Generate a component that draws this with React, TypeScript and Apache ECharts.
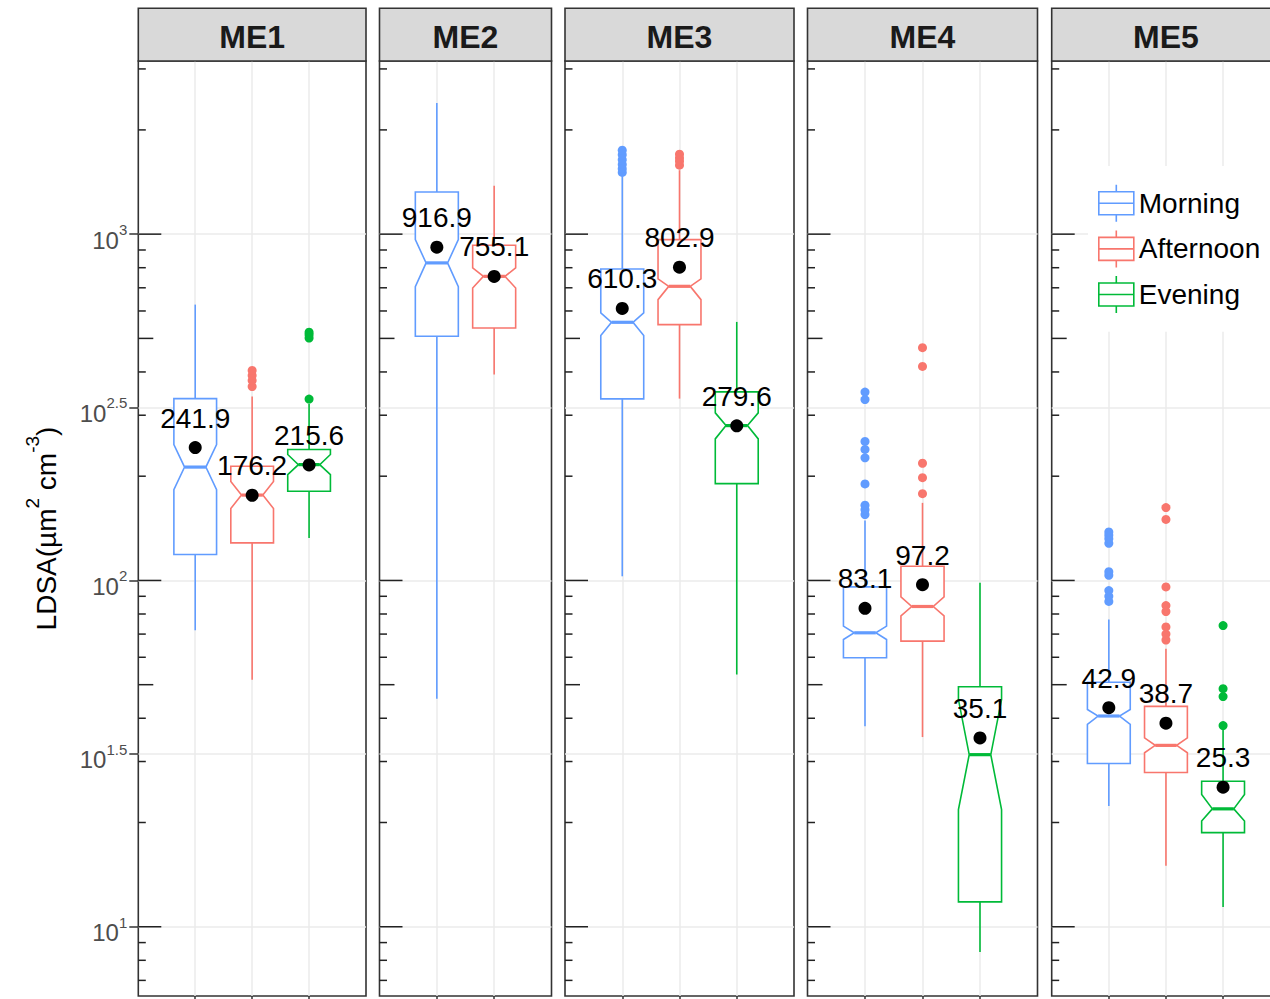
import React, { useEffect, useRef } from 'react';
import * as echarts from 'echarts';

const PANELS = ['ME1', 'ME2', 'ME3', 'ME4', 'ME5'];
const GROUPS = ['Morning', 'Afternoon', 'Evening'];
const COLORS = ['#619CFF', '#F8766D', '#00BA38'];
const PANEL_GROUPS = [[0, 1, 2], [0, 1], [0, 1, 2], [0, 1, 2], [0, 1, 2]];

// [lower whisker, Q1, notch low, median, notch high, Q3, upper whisker]
const ME1_BOXES = [
  [71.8, 118.8, 183, 212.5, 246.8, 335, 626],
  [51.7, 128.4, 161.3, 176.4, 193, 213.6, 340],
  [132.7, 180.9, 202.1, 216, 231, 238.8, 324],
];
const ME2_BOXES = [
  [45.5, 507, 705.6, 826, 964, 1324, 2392],
  [393, 536, 699.3, 755.3, 798.8, 928.4, 1380],
];
const ME3_BOXES = [
  [102.8, 334.4, 509.3, 556.5, 592.4, 793.5, 1468],
  [335, 548, 647, 706.9, 742.4, 964, 1530],
  [53.5, 190.4, 256.3, 280, 304.7, 350.4, 557.9],
];
const ME4_BOXES = [
  [37.9, 59.8, 67.5, 70.6, 73.8, 95.8, 149],
  [35.3, 66.8, 79, 84.1, 89.6, 109.9, 167.5],
  [8.45, 11.8, 21.8, 31.4, 45.3, 49.3, 98.4],
];
const ME5_BOXES = [
  [22.3, 29.6, 38.4, 40.6, 42.4, 50.8, 77.1],
  [15.0, 27.9, 31.8, 33.4, 35.1, 43.3, 63.5],
  [11.4, 18.7, 20.2, 21.9, 24.1, 26.3, 37.1],
];

const ME1_OUTLIERS = [[], [363, 378, 391, 404], [334, 501, 512, 521]];
const ME2_OUTLIERS = [[], []];
const ME3_OUTLIERS = [[1507, 1545, 1590, 1640, 1695, 1748], [1582, 1625, 1660, 1702], []];
const ME4_OUTLIERS = [[155, 160, 165, 190, 226, 239, 252, 333, 350], [178, 198, 218, 415, 470], []];
const ME5_OUTLIERS = [
  [87, 90, 93.5, 103.5, 106, 128, 132, 135, 138],
  [67.3, 70, 73.4, 81.3, 84.6, 95.8, 150, 162.3],
  [38.1, 46.2, 48.7, 74.1],
];

const MEANS = [
  [241.9, 176.2, 215.6],
  [916.9, 755.1],
  [610.3, 802.9, 279.6],
  [83.1, 97.2, 35.1],
  [42.9, 38.7, 25.3],
];

const Y_BREAKS = [1, 1.5, 2, 2.5, 3]; // log10 exponents
const LOG_TICKS = [7, 8, 9, 10, 20, 30, 40, 50, 60, 70, 80, 90, 100, 200, 300, 400, 500, 600, 700, 800, 900, 1000, 2000, 3000];

const BOXES = [ME1_BOXES, ME2_BOXES, ME3_BOXES, ME4_BOXES, ME5_BOXES];
const OUTLIERS = [ME1_OUTLIERS, ME2_OUTLIERS, ME3_OUTLIERS, ME4_OUTLIERS, ME5_OUTLIERS];

const LOG_MIN = 0.8;
const LOG_MAX = 3.5;
const BOX_WIDTH = 0.75;
const FONT = '"Liberation Sans", Arial, sans-serif';

const PANEL_LEFT = [138.3, 379.5, 565, 807.5, 1051.7];
const PANEL_WIDTH = [227.7, 172, 229, 230, 228.5];
const PANEL_TOP = 61;
const PANEL_HEIGHT = 935;
const STRIP_TOP = 8.3;

const LEGEND_ICON = 'path://M0,7 L35,7 L35,30 L0,30 Z M0,18.5 L35,18.5 M17.5,0 L17.5,7 M17.5,30 L17.5,37';

const lg = (v: number) => Math.log10(v);

function boxRenderer(color: string) {
  return (params: any, api: any) => {
    const x = api.value(0);
    const wlo = api.value(1), q1 = api.value(2), nlo = api.value(3), med = api.value(4);
    const nhi = api.value(5), q3 = api.value(6), whi = api.value(7);
    const cx = api.coord([x, med])[0];
    const hw = api.size([BOX_WIDTH, 0])[0] / 2;
    const Y = (v: number) => api.coord([x, v])[1];
    const lw = 1.6;
    const pts = [
      [cx - hw, Y(q1)], [cx - hw, Y(nlo)], [cx - hw / 2, Y(med)], [cx - hw, Y(nhi)], [cx - hw, Y(q3)],
      [cx + hw, Y(q3)], [cx + hw, Y(nhi)], [cx + hw / 2, Y(med)], [cx + hw, Y(nlo)], [cx + hw, Y(q1)],
    ];
    return {
      type: 'group',
      children: [
        { type: 'line', shape: { x1: cx, y1: Y(q3), x2: cx, y2: Y(whi) }, style: { stroke: color, lineWidth: lw } },
        { type: 'line', shape: { x1: cx, y1: Y(q1), x2: cx, y2: Y(wlo) }, style: { stroke: color, lineWidth: lw } },
        { type: 'polygon', shape: { points: pts }, style: { fill: '#fff', stroke: color, lineWidth: lw } },
        { type: 'line', shape: { x1: cx - hw / 2, y1: Y(med), x2: cx + hw / 2, y2: Y(med) }, style: { stroke: color, lineWidth: 3.2 } },
      ],
    };
  };
}

function logTickRenderer(params: any, api: any) {
  const raw = api.value(2);
  const y = api.coord([0, api.value(1)])[1];
  const x0 = params.coordSys.x;
  const mant = raw / Math.pow(10, Math.floor(Math.log10(raw) + 1e-9));
  const len = Math.abs(mant - 1) < 1e-6 ? 23 : Math.abs(mant - 5) < 1e-6 ? 15 : 7.5;
  return { type: 'line', shape: { x1: x0, y1: y, x2: x0 + len, y2: y }, style: { stroke: '#222', lineWidth: 1.5 } };
}

export default function App() {
  const ref = useRef<HTMLDivElement>(null);
  useEffect(() => {
    if (!ref.current) return;
    const chart = echarts.init(ref.current, null, { renderer: 'svg' });
    const grid: any[] = [];
    const xAxis: any[] = [];
    const yAxis: any[] = [];
    const series: any[] = [];
    const graphic: any[] = [];

    PANELS.forEach((name, p) => {
      const groups = PANEL_GROUPS[p];
      const n = groups.length;
      const cats = groups.map((_, i) => i + 1);
      grid.push({
        left: PANEL_LEFT[p], top: PANEL_TOP, width: PANEL_WIDTH[p], height: PANEL_HEIGHT,
        show: true, borderColor: '#333', borderWidth: 1.6, backgroundColor: 'rgba(0,0,0,0)', containLabel: false,
      });
      xAxis.push({
        gridIndex: p, type: 'value', min: 0, max: n + 1,
        axisLine: { show: false },
        axisLabel: { show: false, customValues: cats },
        axisTick: { show: true, length: 5, customValues: cats, lineStyle: { color: '#333', width: 1.5 } },
        splitLine: { show: true, lineStyle: { color: '#ebebeb', width: 1.5 } },
      });
      yAxis.push({
        gridIndex: p, type: 'value', min: LOG_MIN, max: LOG_MAX,
        axisLine: { show: false },
        axisTick: { show: p === 0, length: 9, customValues: Y_BREAKS, lineStyle: { color: '#333', width: 1.5 } },
        axisLabel: {
          show: p === 0, customValues: Y_BREAKS, margin: 11, padding: [12, 0, 0, 0],
          formatter: (v: number) => `{b|10}{s|${v}}`,
          rich: {
            b: { fontSize: 24, lineHeight: 36, color: '#4d4d4d', fontFamily: FONT },
            s: { fontSize: 15, lineHeight: 15, verticalAlign: 'top', color: '#4d4d4d', fontFamily: FONT },
          },
        },
        splitLine: { show: true, lineStyle: { color: '#ebebeb', width: 1.5 } },
      });

      series.push({
        type: 'custom', name: 'logticks', xAxisIndex: p, yAxisIndex: p, silent: true, clip: false,
        renderItem: logTickRenderer, encode: { x: 0, y: 1 },
        data: LOG_TICKS.map((t) => [0, lg(t), t]),
        z: 3,
      });

      groups.forEach((g, i) => {
        const b = BOXES[p][i];
        series.push({
          type: 'custom', name: GROUPS[g], xAxisIndex: p, yAxisIndex: p, silent: true, clip: false,
          itemStyle: { color: COLORS[g] },
          renderItem: boxRenderer(COLORS[g]),
          encode: { x: 0, y: [1, 2, 3, 4, 5, 6, 7] },
          data: [[i + 1, ...b.map(lg)]],
          z: 4,
        });
        const outs = OUTLIERS[p][i];
        if (outs.length) {
          series.push({
            type: 'scatter', name: GROUPS[g], xAxisIndex: p, yAxisIndex: p, silent: true,
            symbolSize: 9, itemStyle: { color: COLORS[g], opacity: 1 },
            data: outs.map((v) => [i + 1, lg(v)]),
            z: 5,
          });
        }
      });

      series.push({
        type: 'scatter', name: 'mean', xAxisIndex: p, yAxisIndex: p, silent: true,
        symbolSize: 13, itemStyle: { color: '#000', opacity: 1 },
        label: {
          show: true, position: 'top', distance: 9, fontSize: 28, color: '#000', fontFamily: FONT,
          formatter: (prm: any) => prm.value[2].toFixed(1),
        },
        data: MEANS[p].map((m, i) => [i + 1, lg(m), m]),
        z: 6,
      });

      graphic.push({
        type: 'rect', shape: { x: PANEL_LEFT[p], y: STRIP_TOP, width: PANEL_WIDTH[p], height: PANEL_TOP - STRIP_TOP },
        style: { fill: '#d9d9d9', stroke: '#333', lineWidth: 1.6 }, z: 10,
      });
      graphic.push({
        type: 'text', x: PANEL_LEFT[p] + PANEL_WIDTH[p] / 2, y: 36.5, z: 11,
        style: { text: name, font: `bold 32px ${FONT}`, fill: '#1a1a1a', align: 'center', verticalAlign: 'middle' },
      });
    });

    graphic.push({
      type: 'text', x: 46, y: 528.5, rotation: Math.PI / 2, z: 11,
      style: {
        text: '{a|LDSA(µm}{s|2}{a| cm}{s|-3}{a|)}',
        align: 'center', verticalAlign: 'middle',
        rich: {
          a: { fontSize: 28, lineHeight: 46, fontFamily: FONT, fill: '#000' },
          s: { fontSize: 19, lineHeight: 19, verticalAlign: 'top', fontFamily: FONT, fill: '#000' },
        },
      },
    });

    chart.setOption({
      animation: false,
      backgroundColor: '#fff',
      textStyle: { fontFamily: FONT },
      grid, xAxis, yAxis, series, graphic,
      legend: {
        orient: 'vertical', left: 1088, top: 166, padding: [18, 30, 18, 10], itemGap: 7,
        itemWidth: 35, itemHeight: 37, backgroundColor: '#fff', selectedMode: false,
        textStyle: { fontSize: 28, color: '#000', fontFamily: FONT },
        data: GROUPS.map((g, i) => ({
          name: g, icon: LEGEND_ICON,
          itemStyle: { color: '#fff', borderColor: COLORS[i], borderWidth: 1.6 },
        })),
      },
    });
    return () => chart.dispose();
  }, []);

  return (
    <div style={{ position: 'fixed', left: 0, top: 0, width: 1270, height: 999, overflow: 'hidden', background: '#fff' }}>
      <div ref={ref} style={{ width: 1300, height: 999 }} />
    </div>
  );
}
